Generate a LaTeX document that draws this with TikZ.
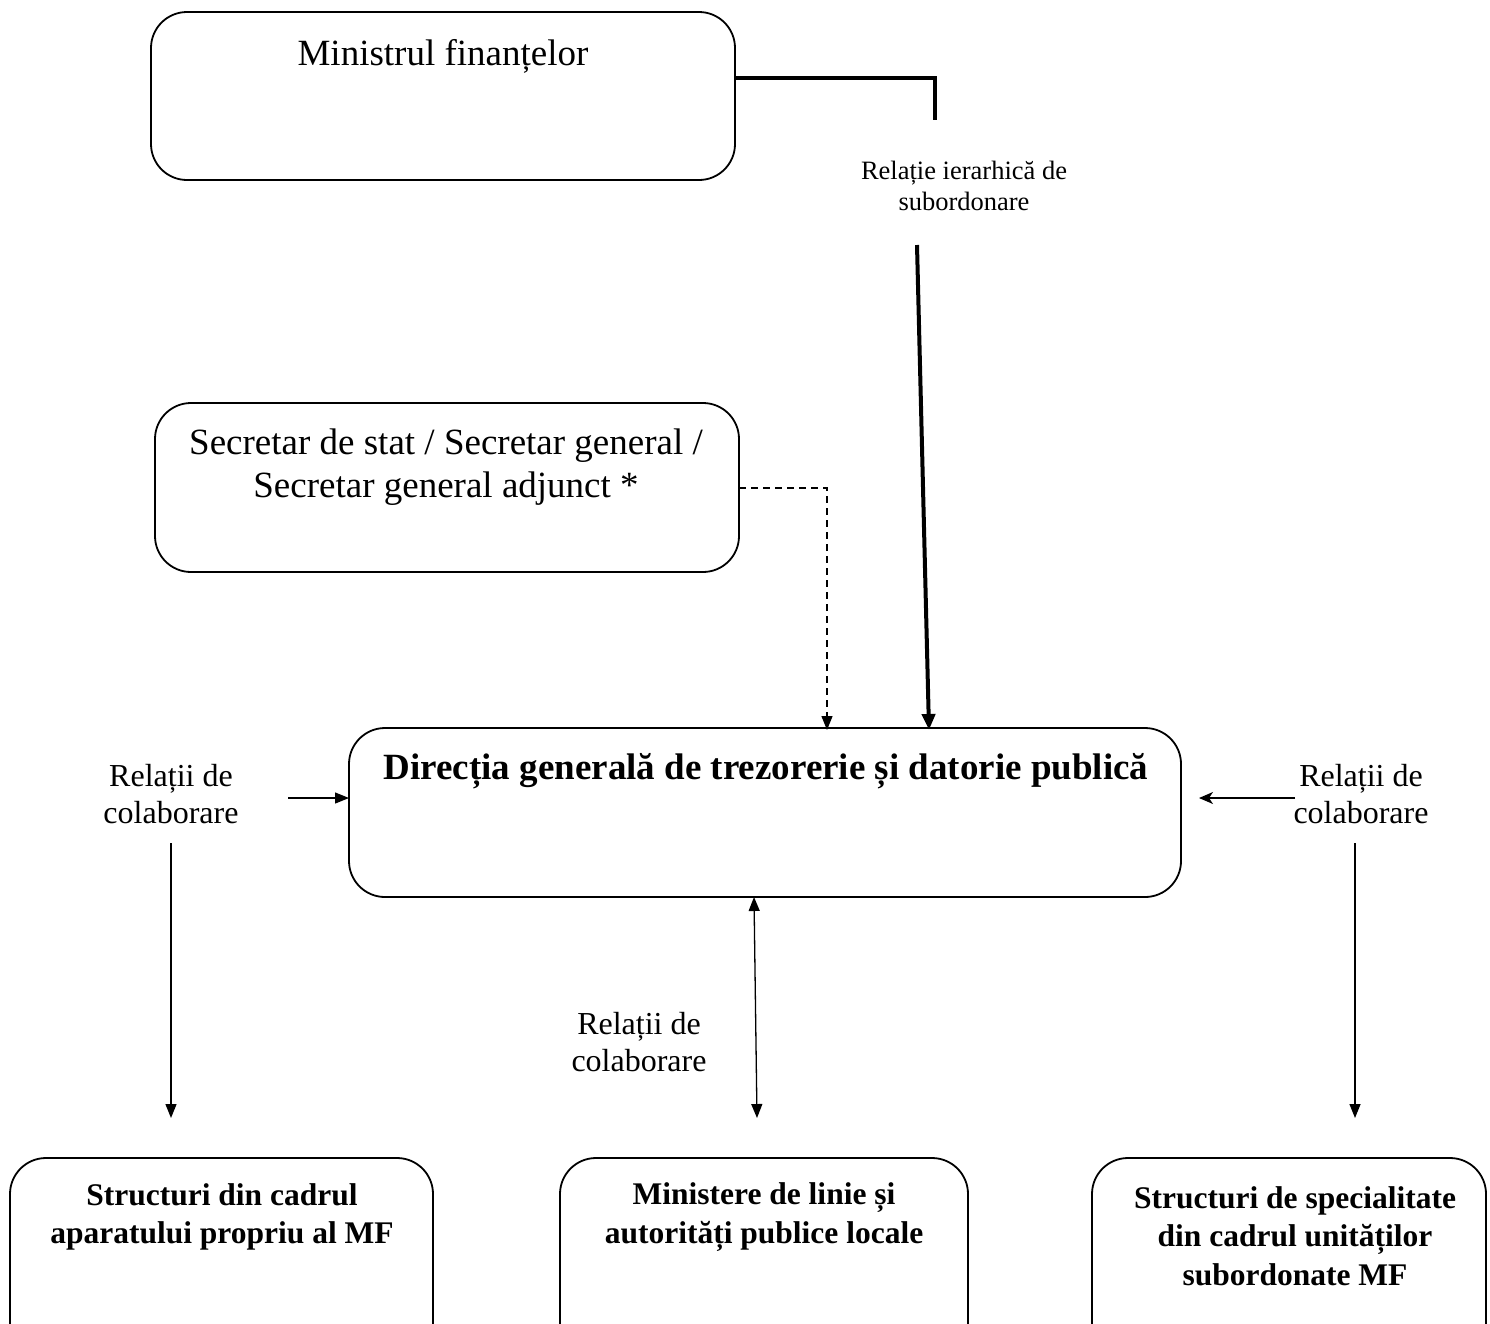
\documentclass[tikz,border=0pt]{standalone}
\usepackage{fontspec}
\setmainfont{Liberation Serif}
\usetikzlibrary{arrows.meta}
\begin{document}
\begin{tikzpicture}[x=1pt,y=-1pt,
  box/.style={draw, line width=1.8pt, rounded corners=36pt, inner sep=0pt},
  txt/.style={align=center, inner sep=0pt},
  bigtxt/.style={txt, font=\fontsize{37}{43}\selectfont},
  reltxt/.style={txt, font=\fontsize{32}{37}\selectfont},
  smalltxt/.style={txt, font=\fontsize{26.5}{31}\selectfont},
  boldtxt/.style={txt, font=\fontsize{31.5}{38.5}\selectfont\bfseries},
  tri/.style={-{Triangle[length=14pt,width=11pt]}},
  thinline/.style={line width=1.3pt},
]
\clip (0,0) rectangle (1490,1323);
\fill[white] (0,0) rectangle (1490,1323);

% boxes
\node[box, minimum width=584pt, minimum height=168pt] (mf) at (443,96) {};
\node[box, minimum width=584pt, minimum height=169pt] (sec) at (447,487.5) {};
\node[box, minimum width=832pt, minimum height=169pt] (dg) at (765,812.5) {};
\node[box, minimum width=423pt, minimum height=240pt] (bl) at (221.5,1278) {};
\node[box, minimum width=408pt, minimum height=240pt] (bm) at (764,1278) {};
\node[box, minimum width=394pt, minimum height=240pt] (br) at (1289,1278) {};

% texts
\node[bigtxt] (mft) at (443,56) {Ministrul finanțelor};
\node[bigtxt] (sect) at (446,467) {Secretar de stat / Secretar general /\\Secretar general adjunct *};
\node[txt, font=\fontsize{37}{43}\selectfont\bfseries] (dgt) at (766,771) {Direcția generală de trezorerie și datorie publică};
\node[boldtxt] (blt) at (222,1217) {Structuri din cadrul\\aparatului propriu al MF};
\node[boldtxt] (bmt) at (764,1217) {Ministere de linie și\\autorități publice locale};
\node[boldtxt] (brt) at (1295,1236) {Structuri de specialitate\\din cadrul unităților\\subordonate MF};

\node[smalltxt] (hier) at (964,186) {Relație ierarhică de\\subordonare};
\node[reltxt] (rl) at (171,794) {Relații de\\colaborare};
\node[reltxt] (rr) at (1361,794) {Relații de\\colaborare};
\node[reltxt] (rm) at (639,1042) {Relații de\\colaborare};

% coordinates
\coordinate (mfout) at (735,78);
\coordinate (hcorner) at (935,78);
\coordinate (hend) at (935,120);
\coordinate (hstart) at (917,245);
\coordinate (hin) at (929,730);
\coordinate (secout) at (739,488);
\coordinate (dcorner) at (827,488);
\coordinate (din) at (827,730);
\coordinate (lstart) at (288,798);
\coordinate (lin) at (349,798);
\coordinate (rstart) at (1295,798);
\coordinate (rin) at (1199,798);
\coordinate (ldown) at (171,843);
\coordinate (lbot) at (171,1118);
\coordinate (rdown) at (1355,843);
\coordinate (rbot) at (1355,1118);
\coordinate (mtop) at (754,897);
\coordinate (mbot) at (757,1118);

% connectors
\draw[line width=4pt] (mfout) -- (hcorner) -- (hend);
\draw[line width=4pt, -{Triangle[length=16pt,width=13pt]}] (hstart) -- (hin);
\draw[thinline, dashed, dash pattern=on 7pt off 5pt, tri] (secout) -- (dcorner) -- (din);
\draw[thinline, tri] (lstart) -- (lin);
\draw[thinline, -{Stealth[length=14pt,width=12pt,inset=4pt]}] (rstart) -- (rin);
\draw[thinline, tri] (ldown) -- (lbot);
\draw[thinline, tri] (rdown) -- (rbot);
\draw[thinline, {Triangle[length=14pt,width=11pt]}-{Triangle[length=14pt,width=11pt]}] (mtop) -- (mbot);
\end{tikzpicture}
\end{document}
